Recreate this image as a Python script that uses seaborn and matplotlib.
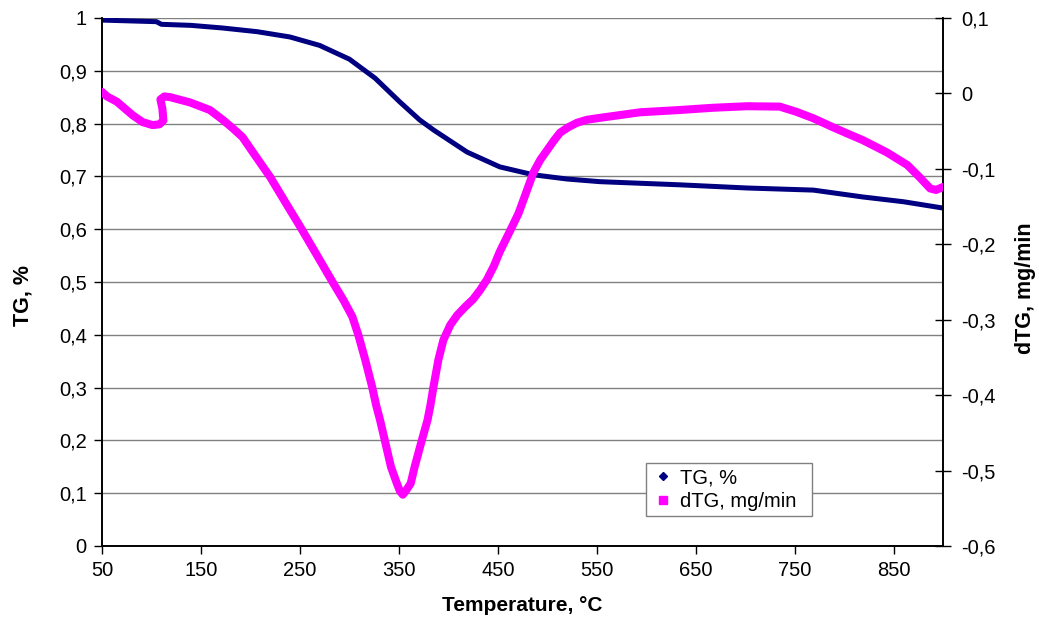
import matplotlib
matplotlib.use("Agg")
import matplotlib.pyplot as plt
from matplotlib.lines import Line2D
from matplotlib.ticker import FuncFormatter, MultipleLocator
import seaborn as sns
import pandas as pd

# ---- data ----
tg_temp = [50, 105, 110, 140, 172, 207, 240, 270, 300, 326, 351, 371, 385, 419,
           452, 486, 520, 553, 634, 702, 769, 819, 860, 900]
tg_val = [0.996, 0.993, 0.988, 0.986, 0.981, 0.974, 0.964, 0.948, 0.922, 0.886,
          0.841, 0.807, 0.788, 0.746, 0.718, 0.703, 0.695, 0.690, 0.684, 0.678,
          0.674, 0.661, 0.652, 0.640]

dtg_temp = [50, 55, 65, 81, 91, 101, 108, 112, 111, 109, 113, 119, 139, 159, 172,
            182, 192, 203, 220, 237, 250, 267, 283, 294, 303, 309, 316, 323, 327,
            331, 336, 342, 348, 351, 354, 357, 362, 366, 373, 379, 382, 385, 390,
            395, 402, 409, 417, 425, 432, 439, 446, 452, 458, 464, 471, 476, 481,
            486, 493, 500, 507, 513, 521, 530, 540, 550, 594, 634, 668, 702, 735,
            752, 769, 789, 803, 819, 843, 864, 877, 887, 893, 900]
dtg_val = [0.002, -0.004, -0.011, -0.029, -0.038, -0.042, -0.041, -0.036, -0.020,
           -0.008, -0.004, -0.005, -0.012, -0.022, -0.035, -0.046, -0.058, -0.079,
           -0.111, -0.148, -0.176, -0.214, -0.250, -0.274, -0.296, -0.320, -0.353,
           -0.389, -0.413, -0.433, -0.461, -0.495, -0.517, -0.527, -0.532, -0.527,
           -0.517, -0.495, -0.461, -0.433, -0.413, -0.389, -0.353, -0.327, -0.307,
           -0.294, -0.283, -0.273, -0.261, -0.247, -0.229, -0.210, -0.194, -0.178,
           -0.159, -0.141, -0.123, -0.105, -0.088, -0.075, -0.062, -0.052, -0.045,
           -0.039, -0.035, -0.033, -0.025, -0.022, -0.019, -0.017, -0.0175,
           -0.0245, -0.033, -0.045, -0.053, -0.062, -0.078, -0.095, -0.112, -0.126,
           -0.128, -0.124]

x_ticks = [50, 150, 250, 350, 450, 550, 650, 750, 850]

sns.set_style("white")
plt.rcParams['font.family'] = ['Liberation Sans', 'DejaVu Sans']
plt.rcParams['text.color'] = 'black'
plt.rcParams['axes.labelcolor'] = 'black'
plt.rcParams['xtick.color'] = 'black'
plt.rcParams['ytick.color'] = 'black'

fig = plt.figure(figsize=(10.39, 6.2), dpi=100)
ax = fig.add_axes([0.0982, 0.1194, 0.8094, 0.8516])
ax2 = ax.twinx()

tg_df = pd.DataFrame({"T": tg_temp, "TG": tg_val})
dtg_df = pd.DataFrame({"T": dtg_temp, "dTG": dtg_val})

NAVY = "#000080"
MAGENTA = "#FF00FF"

sns.lineplot(data=tg_df, x="T", y="TG", ax=ax, color=NAVY, linewidth=3.6,
             sort=False, estimator=None, solid_capstyle="round",
             solid_joinstyle="round", zorder=3)
sns.lineplot(data=dtg_df, x="T", y="dTG", ax=ax2, color=MAGENTA, linewidth=5.8,
             sort=False, estimator=None, solid_capstyle="round",
             solid_joinstyle="round", zorder=3)

comma = FuncFormatter(lambda v, p: ("%g" % round(v, 2)).replace(".", ","))

ax.set_xlim(50, 900)
ax.set_ylim(0, 1)
ax.yaxis.set_major_locator(MultipleLocator(0.1))
ax.set_xticks(x_ticks)
ax.yaxis.set_major_formatter(comma)
ax.grid(axis="y", color="#808080", linewidth=1.0)
ax.grid(axis="x", visible=False)
ax.set_axisbelow(True)

ax2.set_ylim(-0.6, 0.1)
ax2.yaxis.set_major_locator(MultipleLocator(0.1))
ax2.yaxis.set_major_formatter(comma)
ax2.grid(False)

for a in (ax, ax2):
    for s in a.spines.values():
        s.set_color("black")
        s.set_linewidth(1.2)
    a.spines["top"].set_visible(False)

ax.tick_params(axis="both", direction="out", length=6, width=1, color="black",
               labelcolor="black", labelsize=14.5, pad=5, left=True, bottom=True)
ax2.tick_params(axis="y", direction="inout", length=12, width=1, color="black",
                labelcolor="black", labelsize=14.5, pad=7, right=True)

ax.set_xlabel("Temperature, °C", fontsize=15, fontweight="bold", labelpad=11,
              color="black")
ax.set_ylabel("TG, %", fontsize=15.5, fontweight="bold", color="black")
ax2.set_ylabel("dTG, mg/min", fontsize=15.5, fontweight="bold", color="black")
ax.yaxis.set_label_coords(-0.081, 0.475)
ax2.yaxis.set_label_coords(1.0856, 0.489)

handles = [
    Line2D([], [], linestyle="none", marker="D", markersize=4, color=NAVY),
    Line2D([], [], linestyle="none", marker="s", markersize=6, color=MAGENTA),
]
leg = ax2.legend(handles, ["TG, %", "dTG, mg/min"], loc="upper left",
                 bbox_to_anchor=(0.647, 0.157 - 0.102, 0.197, 0.102),
                 mode="expand", frameon=True, fancybox=False,
                 edgecolor="#808080", fontsize=14.5, handlelength=1.2,
                 handletextpad=0.25, borderpad=0.25, labelspacing=0.25,
                 borderaxespad=0.0, labelcolor="black")
leg.get_frame().set_linewidth(1.0)
leg.get_frame().set_facecolor("white")
leg.get_frame().set_alpha(1)

fig.savefig("out.png", dpi=100)
